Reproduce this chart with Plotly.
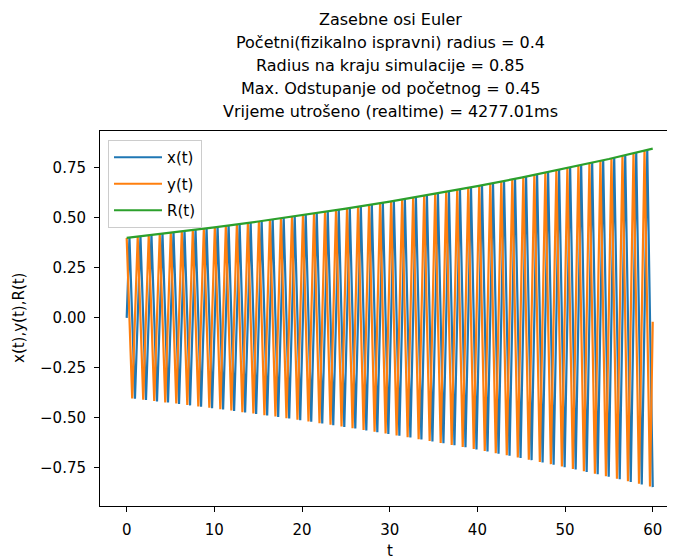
import numpy as np
import plotly.graph_objects as go

# ── data ──────────────────────────────────────────────────────────────────────
title_lines = [
    "Zasebne osi Euler",
    "Početni(fizikalno ispravni) radius = 0.4",
    "Radius na kraju simulacije = 0.85",
    "Max. Odstupanje od početnog = 0.45",
    "Vrijeme utrošeno (realtime) = 4277.01ms",
]
series_names = ["x(t)", "y(t)", "R(t)"]
y_ticks = [-0.75, -0.50, -0.25, 0.00, 0.25, 0.50, 0.75]
x_ticks = [0, 10, 20, 30, 40, 50, 60]

# x(t): start point, upper and lower turning points
x_ends_t = [0.0]
x_ends = [0.0]
x_peak_t = [0.314, 1.571, 2.827, 4.084, 5.341, 6.597, 7.854, 9.111, 10.367, 11.624, 12.881, 14.137,
            15.394, 16.650, 17.907, 19.164, 20.420, 21.677, 22.934, 24.190, 25.447, 26.704, 27.960, 29.217,
            30.473, 31.730, 32.987, 34.243, 35.500, 36.757, 38.013, 39.270, 40.527, 41.783, 43.040, 44.296,
            45.553, 46.810, 48.066, 49.323, 50.580, 51.836, 53.093, 54.350, 55.606, 56.863, 58.119, 59.376]
x_peak = [0.402, 0.408, 0.414, 0.421, 0.428, 0.434, 0.441, 0.448, 0.455, 0.463, 0.470, 0.477,
          0.485, 0.493, 0.500, 0.508, 0.516, 0.524, 0.533, 0.541, 0.550, 0.558, 0.567, 0.576,
          0.585, 0.595, 0.604, 0.614, 0.623, 0.633, 0.643, 0.654, 0.664, 0.674, 0.685, 0.696,
          0.707, 0.718, 0.729, 0.741, 0.753, 0.765, 0.777, 0.789, 0.802, 0.814, 0.827, 0.840]
x_trough_t = [0.942, 2.199, 3.456, 4.712, 5.969, 7.226, 8.482, 9.739, 10.996, 12.252, 13.509, 14.765,
              16.022, 17.279, 18.535, 19.792, 21.049, 22.305, 23.562, 24.819, 26.075, 27.332, 28.588, 29.845,
              31.102, 32.358, 33.615, 34.872, 36.128, 37.385, 38.642, 39.898, 41.155, 42.412, 43.668, 44.925,
              46.181, 47.438, 48.695, 49.951, 51.208, 52.465, 53.721, 54.978, 56.235, 57.491, 58.748, 60.000]
x_trough = [-0.405, -0.411, -0.418, -0.424, -0.431, -0.438, -0.445, -0.452, -0.459, -0.466, -0.474, -0.481,
            -0.489, -0.496, -0.504, -0.512, -0.520, -0.529, -0.537, -0.546, -0.554, -0.563, -0.572, -0.581,
            -0.590, -0.599, -0.609, -0.619, -0.628, -0.638, -0.648, -0.659, -0.669, -0.680, -0.690, -0.701,
            -0.712, -0.724, -0.735, -0.747, -0.759, -0.771, -0.783, -0.795, -0.808, -0.821, -0.834, -0.847]

# y(t): end point, upper and lower turning points
y_ends_t = [60.0]
y_ends = [-0.02]
y_peak_t = [0.000, 1.257, 2.513, 3.770, 5.027, 6.283, 7.540, 8.796, 10.053, 11.310, 12.566, 13.823,
            15.080, 16.336, 17.593, 18.850, 20.106, 21.363, 22.619, 23.876, 25.133, 26.389, 27.646, 28.903,
            30.159, 31.416, 32.673, 33.929, 35.186, 36.442, 37.699, 38.956, 40.212, 41.469, 42.726, 43.982,
            45.239, 46.496, 47.752, 49.009, 50.265, 51.522, 52.779, 54.035, 55.292, 56.549, 57.805, 59.062]
y_peak = [0.400, 0.406, 0.413, 0.419, 0.426, 0.433, 0.440, 0.446, 0.454, 0.461, 0.468, 0.475,
          0.483, 0.491, 0.498, 0.506, 0.514, 0.522, 0.531, 0.539, 0.548, 0.556, 0.565, 0.574,
          0.583, 0.592, 0.602, 0.611, 0.621, 0.631, 0.641, 0.651, 0.661, 0.672, 0.682, 0.693,
          0.704, 0.715, 0.727, 0.738, 0.750, 0.762, 0.774, 0.786, 0.798, 0.811, 0.824, 0.837]
y_trough_t = [0.628, 1.885, 3.142, 4.398, 5.655, 6.912, 8.168, 9.425, 10.681, 11.938, 13.195, 14.451,
              15.708, 16.965, 18.221, 19.478, 20.735, 21.991, 23.248, 24.504, 25.761, 27.018, 28.274, 29.531,
              30.788, 32.044, 33.301, 34.558, 35.814, 37.071, 38.327, 39.584, 40.841, 42.097, 43.354, 44.611,
              45.867, 47.124, 48.381, 49.637, 50.894, 52.150, 53.407, 54.664, 55.920, 57.177, 58.434, 59.690]
y_trough = [-0.403, -0.410, -0.416, -0.423, -0.429, -0.436, -0.443, -0.450, -0.457, -0.464, -0.472, -0.479,
            -0.487, -0.494, -0.502, -0.510, -0.518, -0.527, -0.535, -0.543, -0.552, -0.561, -0.570, -0.579,
            -0.588, -0.597, -0.607, -0.616, -0.626, -0.636, -0.646, -0.656, -0.666, -0.677, -0.688, -0.699,
            -0.710, -0.721, -0.732, -0.744, -0.756, -0.768, -0.780, -0.792, -0.805, -0.817, -0.830, -0.844]

# R(t): radius envelope
r_t = [0, 5, 10, 15, 20, 25, 30, 35, 40, 45, 50, 55, 60]
r_val = [0.400, 0.426, 0.453, 0.482, 0.514, 0.547, 0.582, 0.620, 0.659, 0.702, 0.747, 0.795, 0.847]

colors = ["#1f77b4", "#ff7f0e", "#2ca02c"]
FONT = "DejaVu Sans"


def merge(*pairs):
    t = np.concatenate([np.asarray(p[0], float) for p in pairs])
    v = np.concatenate([np.asarray(p[1], float) for p in pairs])
    order = np.argsort(t, kind="stable")
    return t[order], v[order]


xt, xv = merge((x_ends_t, x_ends), (x_peak_t, x_peak), (x_trough_t, x_trough))
yt, yv = merge((y_peak_t, y_peak), (y_trough_t, y_trough), (y_ends_t, y_ends))

# ── figure geometry (pixels) ─────────────────────────────────────────────────
# page body has an 8px margin, so the figure is 8px smaller and everything
# below is given in window pixels and shifted by OFF
OFF = 8
W, H = 675 - OFF, 559 - OFF
L, R, T, B = 92, 0, 123, 53
pw, ph = W - L - R, H - T - B


def px(x):  # window pixel x -> paper
    return (x - OFF - L) / pw


def py(y):  # window pixel y -> paper
    return (H - B - (y - OFF)) / ph


fig = go.Figure()
for i, (tt, vv) in enumerate([(xt, xv), (yt, yv), (r_t, r_val)]):
    fig.add_trace(go.Scatter(
        x=tt, y=vv, mode="lines", name=series_names[i],
        legendgroup=series_names[i],
        line=dict(color=colors[i], width=2.2),
    ))

# title lines
for k, line in enumerate(title_lines):
    fig.add_annotation(text=line, xref="paper", yref="paper",
                       x=px(390), y=py(19 + 23.2 * k), xanchor="center", yanchor="middle",
                       showarrow=False, font=dict(family=FONT, size=16, color="black"))

# axis labels
fig.add_annotation(text="x(t),y(t),R(t)", xref="paper", yref="paper", x=px(19), y=py(318),
                   textangle=-90, xanchor="center", yanchor="middle", showarrow=False,
                   font=dict(family=FONT, size=15, color="black"))
fig.add_annotation(text="t", xref="paper", yref="paper", x=px(390), y=py(551),
                   xanchor="center", yanchor="middle", showarrow=False,
                   font=dict(family=FONT, size=15, color="black"))

fig.update_layout(
    width=W, height=H,
    margin=dict(l=L, r=R, t=T, b=B, autoexpand=False),
    paper_bgcolor="white", plot_bgcolor="white",
    font=dict(family=FONT, size=15, color="black"),
    legend=dict(x=px(108), y=py(140), xanchor="left", yanchor="top",
                bgcolor="rgba(255,255,255,0.8)", bordercolor="#cccccc", borderwidth=1,
                traceorder="grouped", tracegroupgap=4, itemwidth=48,
                font=dict(family=FONT, size=15, color="black")),
    showlegend=True,
)
fig.update_xaxes(range=[-3.045, 62.54], tickvals=x_ticks, ticks="outside", ticklen=5,
                 tickcolor="black", showline=True, linecolor="black", linewidth=1,
                 mirror=True, showgrid=False, zeroline=False, ticklabelstandoff=5)
fig.update_yaxes(range=[-0.9415, 0.935], tickvals=y_ticks, tickformat=".2f", ticks="outside",
                 ticklen=5, tickcolor="black", showline=True, linecolor="black", linewidth=1,
                 showgrid=False, zeroline=False, ticklabelstandoff=5)

fig.write_html("out.html")
